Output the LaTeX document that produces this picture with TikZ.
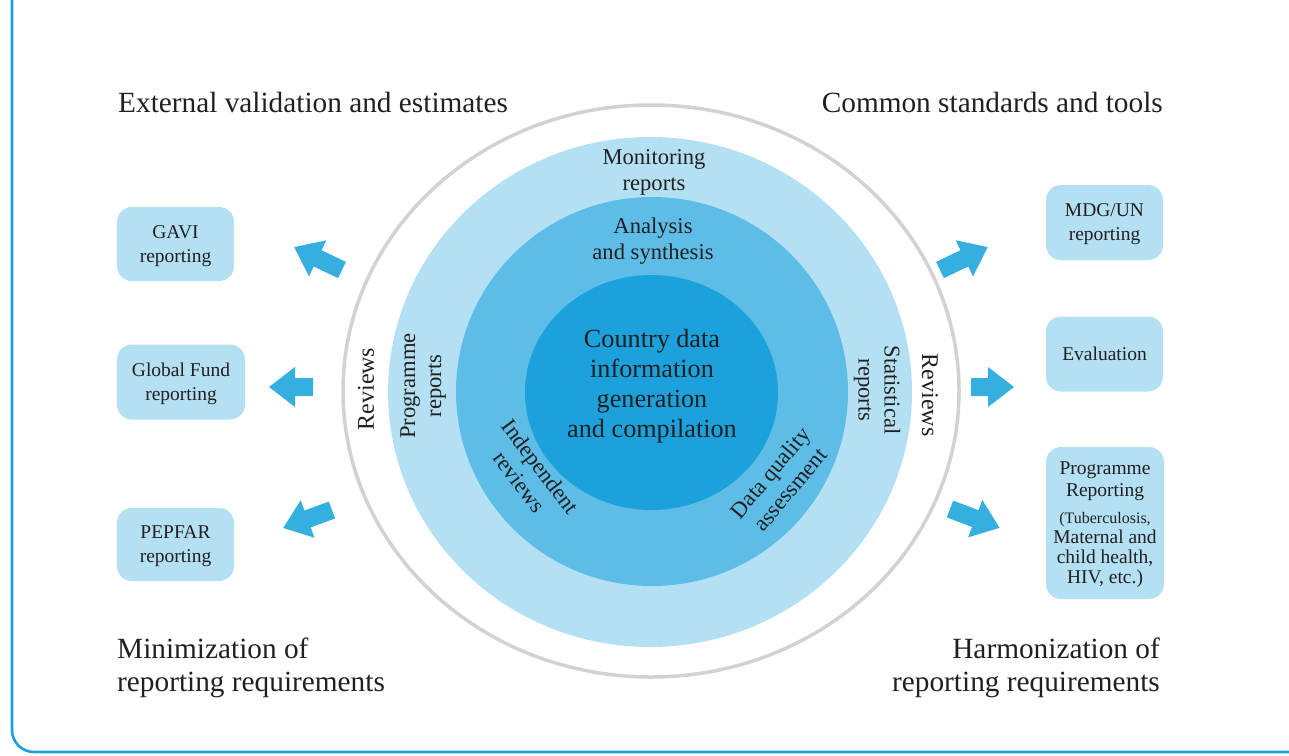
\documentclass[tikz,border=0pt]{standalone}
\usepackage{fontspec}
\setmainfont{Liberation Serif}
\usetikzlibrary{shapes.geometric}
\definecolor{lightb}{HTML}{B3E0F3}
\definecolor{midb}{HTML}{5DBDE7}
\definecolor{darkb}{HTML}{1BA1DB}
\definecolor{arrowb}{HTML}{35AEE0}
\definecolor{ringgray}{HTML}{D2D2D2}
\definecolor{txt}{HTML}{231F20}
\definecolor{framec}{HTML}{1A9FDB}
\begin{document}
\begin{tikzpicture}[x=1pt,y=-1pt,
  every node/.style={text=txt},
  ring/.style={ellipse, inner sep=0pt, outer sep=0pt},
  repbox/.style={fill=lightb, rounded corners=15pt, align=center, inner sep=0pt,
    text depth=0pt, font=\fontsize{19.5}{24}\selectfont},
  heading/.style={font=\fontsize{29.3}{33}\selectfont, inner sep=0pt},
  ringlabel/.style={font=\fontsize{22.6}{26}\selectfont, align=center, inner sep=0pt},
  revlabel/.style={font=\fontsize{24}{28}\selectfont, inner sep=0pt},
  pics/barrow/.style={code={\fill[arrowb] (0,-9) -- (#1-26,-9) -- (#1-26,-20) -- (#1,0)
      -- (#1-26,20) -- (#1-26,9) -- (0,9) -- cycle;}}
]
\useasboundingbox (0,0) rectangle (1289,755);
% frame
\draw[framec, line width=2.6pt, rounded corners=22pt] (12,-5) -- (12,752) -- (1300,752);

% rings
\node[ring, draw=ringgray, line width=3.5pt, minimum width=616pt, minimum height=572pt] (outer) at (651,391) {};
\node[ring, fill=lightb, minimum width=524pt, minimum height=510pt] (light) at (650,392) {};
\node[ring, fill=midb, minimum width=392pt, minimum height=389pt] (mid) at (652,391.5) {};
\node[ring, fill=darkb, minimum width=253pt, minimum height=235pt] (inner) at (651.5,392.5) {};

% ring texts
\node[font=\fontsize{26.2}{30}\selectfont, align=center, inner sep=0pt] (core) at (652,386) {Country data\\information\\generation\\and compilation};
\node[ringlabel] (mon) at (654,172) {Monitoring\\reports};
\node[ringlabel] (ana) at (653,241) {Analysis\\and synthesis};
\node[ringlabel, rotate=90] (progrep) at (423,386) {Programme\\reports};
\node[ringlabel, rotate=-90] (stat) at (877,390) {Statistical\\reports};
\node[ringlabel, rotate=-53] (indep) at (530,474) {Independent\\reviews};
\node[ringlabel, rotate=50] (dqa) at (780,481) {Data quality\\assessment};
\node[revlabel, rotate=90] (revl) at (366,389) {Reviews};
\node[revlabel, rotate=-90] (revr) at (930,395) {Reviews};

% headings
\node[heading, anchor=west] (ext) at (118,102) {External validation and estimates};
\node[heading, anchor=east] (std) at (1163,102) {Common standards and tools};
\node[heading, anchor=west, align=left] (minim) at (117,668) {Minimization of\\reporting requirements};
\node[heading, anchor=east, align=right] (harm) at (1160,668) {Harmonization of\\reporting requirements};

% boxes
\node[repbox, minimum width=117pt, minimum height=74pt] (gavi) at (175.5,244) {GAVI\\reporting};
\node[repbox, minimum width=128pt, minimum height=75pt] (gf) at (181,382) {Global Fund\\reporting};
\node[repbox, minimum width=117pt, minimum height=73pt] (pepfar) at (175.5,544.5) {PEPFAR\\reporting};
\node[repbox, minimum width=117pt, minimum height=75pt] (mdg) at (1104.5,222.5) {MDG/UN\\reporting};
\node[repbox, minimum width=117pt, minimum height=75pt] (eval) at (1104.5,354) {Evaluation};
\node[repbox, minimum width=118pt, minimum height=152pt, font=\fontsize{19.5}{22}\selectfont] (progbox) at (1105,523)
  {Programme\\Reporting\\[5pt]\fontsize{16}{20}\selectfont (Tuberculosis,\\[-2pt]Maternal and\\[-2pt]child health,\\[-2pt]HIV, etc.)};

% arrows
\pic[rotate=154.4] (atl) at (342,270) {barrow=53};
\pic[rotate=180] (aml) at (313,387) {barrow=44};
\pic[rotate=200.2] (abl) at (332,510) {barrow=52};
\pic[rotate=25.6] (atr) at (940,270) {barrow=53};
\pic[rotate=0] (amr) at (971,387) {barrow=43};
\pic[rotate=-20.8] (abr) at (950,509) {barrow=53};
\end{tikzpicture}
\end{document}
